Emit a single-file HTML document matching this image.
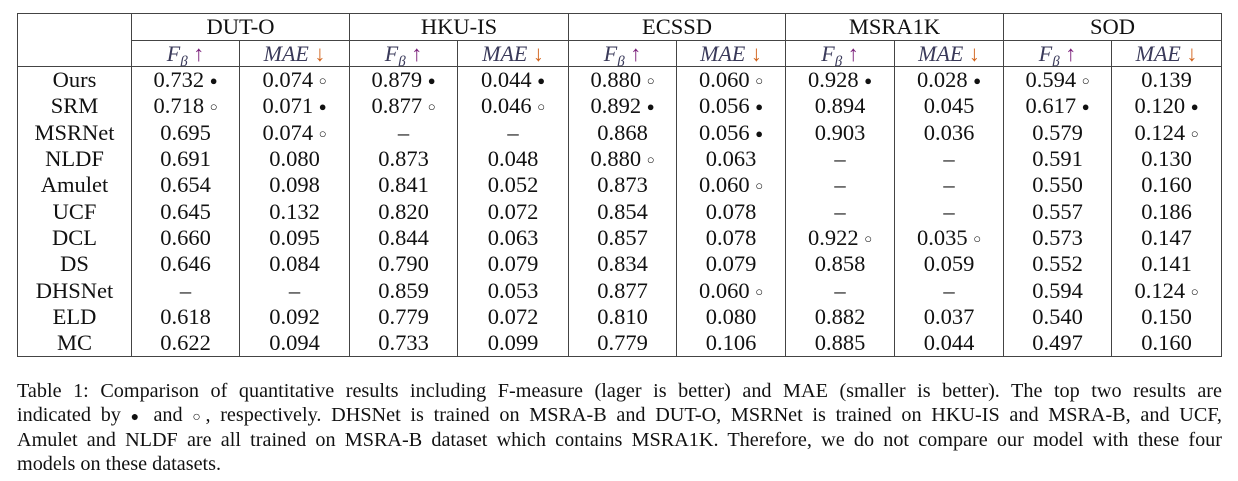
<!DOCTYPE html>
<html><head><meta charset="utf-8"><style>
body{margin:0;width:1238px;height:481px;background:#fff;font-family:"Liberation Serif",serif;color:#111;position:relative;overflow:hidden}
table{position:absolute;left:17px;top:13px;border-collapse:collapse;table-layout:fixed;font-size:22.5px}
td{border-left:1px solid #444;border-right:1px solid #444;padding:0;text-align:center;white-space:nowrap;line-height:22px;vertical-align:middle;overflow:hidden}
tr.h td{height:26px;border-top:1px solid #444;border-bottom:1px solid #444}
tr.s td{height:25px;border-bottom:1px solid #444}
tr.b td{height:26.3px}
tr.last td{border-bottom:1px solid #444}
.m{font-style:italic;color:#3a3a5a;font-size:22px}
.sub{font-size:15px;position:relative;top:5px;line-height:0}
.up{color:#7a1f7a;font-style:normal}
.dn{color:#d2651e;font-style:normal}
.d{font-size:13px;line-height:0;vertical-align:baseline;position:relative;top:-2px}
.cap{position:absolute;left:17px;width:1205px;top:380px;font-size:20.2px;line-height:23.5px;color:#111}
.cap div{text-align:justify;text-align-last:justify;white-space:nowrap}
.cap div.l{text-align-last:left}
.cm{font-size:14px}
</style></head><body>
<table>
<colgroup><col style="width:114px"><col style="width:108px"><col style="width:110px"><col style="width:108px"><col style="width:111px"><col style="width:108px"><col style="width:109px"><col style="width:109px"><col style="width:109px"><col style="width:108px"><col style="width:110px"></colgroup>
<tr class="h"><td style="border-bottom:none"></td><td colspan="2">DUT-O</td><td colspan="2">HKU-IS</td><td colspan="2">ECSSD</td><td colspan="2">MSRA1K</td><td colspan="2">SOD</td></tr>
<tr class="s"><td></td>
<td class="m">F<span class="sub">β</span> <span class="up">↑</span></td><td class="m">MAE <span class="dn">↓</span></td>
<td class="m">F<span class="sub">β</span> <span class="up">↑</span></td><td class="m">MAE <span class="dn">↓</span></td>
<td class="m">F<span class="sub">β</span> <span class="up">↑</span></td><td class="m">MAE <span class="dn">↓</span></td>
<td class="m">F<span class="sub">β</span> <span class="up">↑</span></td><td class="m">MAE <span class="dn">↓</span></td>
<td class="m">F<span class="sub">β</span> <span class="up">↑</span></td><td class="m">MAE <span class="dn">↓</span></td></tr>
<tr class="b"><td>Ours</td><td>0.732 <span class="d">●</span></td><td>0.074 <span class="d">○</span></td><td>0.879 <span class="d">●</span></td><td>0.044 <span class="d">●</span></td><td>0.880 <span class="d">○</span></td><td>0.060 <span class="d">○</span></td><td>0.928 <span class="d">●</span></td><td>0.028 <span class="d">●</span></td><td>0.594 <span class="d">○</span></td><td>0.139</td></tr>
<tr class="b"><td>SRM</td><td>0.718 <span class="d">○</span></td><td>0.071 <span class="d">●</span></td><td>0.877 <span class="d">○</span></td><td>0.046 <span class="d">○</span></td><td>0.892 <span class="d">●</span></td><td>0.056 <span class="d">●</span></td><td>0.894</td><td>0.045</td><td>0.617 <span class="d">●</span></td><td>0.120 <span class="d">●</span></td></tr>
<tr class="b"><td>MSRNet</td><td>0.695</td><td>0.074 <span class="d">○</span></td><td>–</td><td>–</td><td>0.868</td><td>0.056 <span class="d">●</span></td><td>0.903</td><td>0.036</td><td>0.579</td><td>0.124 <span class="d">○</span></td></tr>
<tr class="b"><td>NLDF</td><td>0.691</td><td>0.080</td><td>0.873</td><td>0.048</td><td>0.880 <span class="d">○</span></td><td>0.063</td><td>–</td><td>–</td><td>0.591</td><td>0.130</td></tr>
<tr class="b"><td>Amulet</td><td>0.654</td><td>0.098</td><td>0.841</td><td>0.052</td><td>0.873</td><td>0.060 <span class="d">○</span></td><td>–</td><td>–</td><td>0.550</td><td>0.160</td></tr>
<tr class="b"><td>UCF</td><td>0.645</td><td>0.132</td><td>0.820</td><td>0.072</td><td>0.854</td><td>0.078</td><td>–</td><td>–</td><td>0.557</td><td>0.186</td></tr>
<tr class="b"><td>DCL</td><td>0.660</td><td>0.095</td><td>0.844</td><td>0.063</td><td>0.857</td><td>0.078</td><td>0.922 <span class="d">○</span></td><td>0.035 <span class="d">○</span></td><td>0.573</td><td>0.147</td></tr>
<tr class="b"><td>DS</td><td>0.646</td><td>0.084</td><td>0.790</td><td>0.079</td><td>0.834</td><td>0.079</td><td>0.858</td><td>0.059</td><td>0.552</td><td>0.141</td></tr>
<tr class="b"><td>DHSNet</td><td>–</td><td>–</td><td>0.859</td><td>0.053</td><td>0.877</td><td>0.060 <span class="d">○</span></td><td>–</td><td>–</td><td>0.594</td><td>0.124 <span class="d">○</span></td></tr>
<tr class="b"><td>ELD</td><td>0.618</td><td>0.092</td><td>0.779</td><td>0.072</td><td>0.810</td><td>0.080</td><td>0.882</td><td>0.037</td><td>0.540</td><td>0.150</td></tr>
<tr class="b last"><td>MC</td><td>0.622</td><td>0.094</td><td>0.733</td><td>0.099</td><td>0.779</td><td>0.106</td><td>0.885</td><td>0.044</td><td>0.497</td><td>0.160</td></tr>
</table>
<div class="cap">
<div>Table 1: Comparison of quantitative results including F-measure (lager is better) and MAE (smaller is better). The top two results are</div>
<div>indicated by <span class="cm">●</span> and <span class="cm">○</span>, respectively. DHSNet is trained on MSRA-B and DUT-O, MSRNet is trained on HKU-IS and MSRA-B, and UCF,</div>
<div>Amulet and NLDF are all trained on MSRA-B dataset which contains MSRA1K. Therefore, we do not compare our model with these four</div>
<div class="l">models on these datasets.</div>
</div>
</body></html>
